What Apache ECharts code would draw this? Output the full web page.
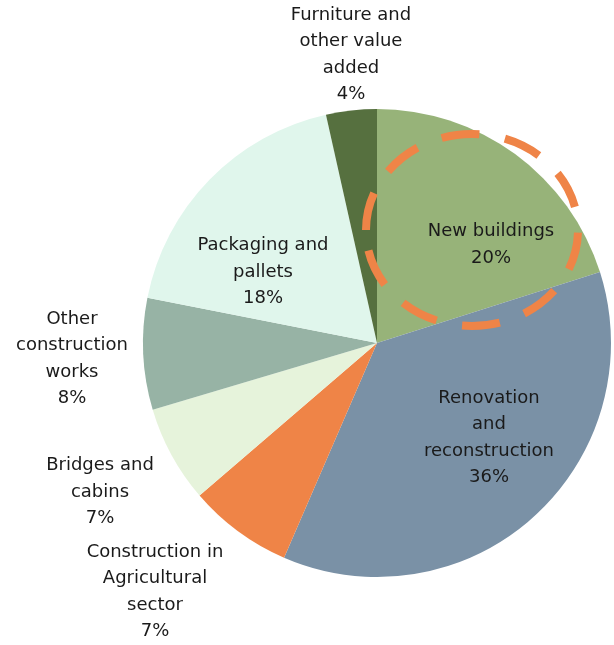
<!DOCTYPE html>
<html>
<head>
<meta charset="utf-8">
<script src="https://cdn.jsdelivr.net/npm/echarts@6/dist/echarts.min.js"></script>
<style>
  html, body { margin: 0; padding: 0; background: #fff; }
  #woodUse { width: 614px; height: 645px; }
</style>
</head>
<body>
<div id="woodUse"></div>
<script>
// 数据 (clockwise from 12 o'clock), shares
var sectors = [
  'New buildings',
  'Renovation\nand\nreconstruction',
  'Construction in\nAgricultural\nsector',
  'Bridges and\ncabins',
  'Other\nconstruction\nworks',
  'Packaging and\npallets',
  'Furniture and\nother value\nadded'
];
var shares = [20.1, 36.4, 7.2, 6.7, 7.7, 18.4, 3.5];
var sliceColors = ['#97b379', '#7a91a6', '#ef8447', '#e6f3db', '#97b3a5', '#e0f6ec', '#56703f'];

// label centres, like Excel puts them
var labelPos = [
  [491, 245], [489, 438], [155, 592], [100, 492], [72, 359], [263, 272], [351, 55]
];

var chart = echarts.init(document.getElementById('woodUse'));

chart.setOption({
  animation: false,
  series: [{
    type: 'pie',
    center: [377, 343],
    radius: 234,
    startAngle: 90,
    clockwise: true,
    percentPrecision: 0,
    avoidLabelOverlap: false,
    label: {
      show: true,
      position: 'inside',
      formatter: '{b}\n{d}%',
      fontFamily: 'DejaVu Sans',
      fontSize: 18,
      lineHeight: 26.5,
      color: '#1a1a1a',
      align: 'center'
    },
    labelLine: { show: false },
    labelLayout: function (p) {
      var pos = labelPos[p.dataIndex];
      return { x: pos[0], y: pos[1], align: 'center', verticalAlign: 'middle' };
    },
    itemStyle: { borderWidth: 0 },
    emphasis: { disabled: true },
    data: sectors.map(function (name, i) {
      return { name: name, value: shares[i], itemStyle: { color: sliceColors[i] } };
    })
  }],
  // dashed highlight round "New buildings"
  graphic: [{
    type: 'ellipse',
    shape: { cx: 472, cy: 230, rx: 106, ry: 96 },
    style: {
      fill: null,
      stroke: '#ef8447',
      lineWidth: 8,
      lineDash: [38, 26]
    },
    z: 100
  }]
});
</script>
</body>
</html>
